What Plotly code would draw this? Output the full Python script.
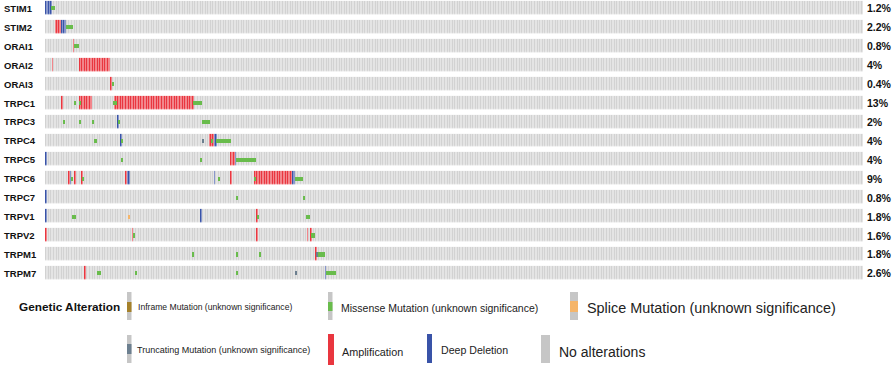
import plotly.graph_objects as go

# ---------------- data ----------------
N_SAMPLES = 500
GENES = ["STIM1", "STIM2", "ORAI1", "ORAI2", "ORAI3", "TRPC1", "TRPC3", "TRPC4",
         "TRPC5", "TRPC6", "TRPC7", "TRPV1", "TRPV2", "TRPM1", "TRPM7"]
PCT_LABELS = ["1.2%", "2.2%", "0.8%", "4%", "0.4%", "13%", "2%", "4%",
              "4%", "9%", "0.8%", "1.8%", "1.6%", "1.8%", "2.6%"]

# runs of sample indices (inclusive start, end)
AMP_RUNS = {
    "STIM2": [(6, 9)],
    "ORAI1": [(17, 17)],
    "ORAI2": [(4, 4), (21, 39)],
    "ORAI3": [(40, 40)],
    "TRPC1": [(10, 10), (21, 28), (42, 90)],
    "TRPC4": [(100, 102)],
    "TRPC5": [(113, 115)],
    "TRPC6": [(14, 14), (18, 18), (22, 22), (49, 49), (113, 113), (128, 150)],
    "TRPV1": [(129, 129)],
    "TRPV2": [(0, 0), (53, 53), (129, 129), (160, 160), (162, 162)],
    "TRPM1": [(165, 165)],
    "TRPM7": [(24, 24)],
}
DEL_RUNS = {
    "STIM1": [(0, 3)],
    "STIM2": [(10, 12)],
    "TRPC3": [(44, 44)],
    "TRPC4": [(46, 46), (103, 104)],
    "TRPC5": [(0, 0), (116, 116)],
    "TRPC6": [(15, 15), (50, 51), (103, 103), (151, 152)],
    "TRPC7": [(0, 0)],
    "TRPV1": [(0, 0), (95, 95)],
    "TRPM7": [(171, 171)],
}
MISSENSE_RUNS = {
    "STIM1": [(4, 5)],
    "STIM2": [(13, 16)],
    "ORAI1": [(18, 20)],
    "ORAI3": [(41, 41)],
    "TRPC1": [(18, 18), (21, 21), (42, 43), (91, 95)],
    "TRPC3": [(11, 11), (21, 21), (29, 29), (45, 45), (96, 100)],
    "TRPC4": [(30, 31), (47, 47), (102, 102), (105, 113)],
    "TRPC5": [(47, 47), (95, 95), (117, 128)],
    "TRPC6": [(16, 16), (23, 23), (106, 106), (128, 128), (153, 157)],
    "TRPC7": [(117, 117), (158, 158)],
    "TRPV1": [(17, 18), (130, 130), (160, 161)],
    "TRPV2": [(54, 54), (163, 164)],
    "TRPM1": [(90, 90), (117, 117), (131, 131), (167, 170)],
    "TRPM7": [(32, 33), (55, 55), (117, 117), (172, 177)],
}
TRUNC_RUNS = {
    "TRPC4": [(96, 96)],
    "TRPM1": [(166, 166)],
    "TRPM7": [(153, 153)],
}
SPLICE_RUNS = {
    "TRPV1": [(51, 51)],
}

# ---------------- style ----------------
GREY = "#d2d2d2"
RED = "#e9363f"
BLUE = "#3953a8"
GREEN = "#69bc4c"
SLATE = "#6c7f8f"
ORANGE = "#f5b56a"
BROWN = "#a5812a"

SANS = "Liberation Sans, Arial, sans-serif"

W, H = 892, 368
ML, MR, MT, MB = 45, 29, 0, 84
PW, PH = W - ML - MR, H - MT - MB


def expand(runs):
    out = []
    for a, b in runs:
        out.extend(range(a, b + 1))
    return out


# CNA matrix: 0 none, 1 amp, 2 deep deletion
z = [[0] * N_SAMPLES for _ in GENES]
for gi, g in enumerate(GENES):
    for s in expand(AMP_RUNS.get(g, [])):
        z[gi][s] = 1
    for s in expand(DEL_RUNS.get(g, [])):
        z[gi][s] = 2

fig = go.Figure()
fig.add_trace(go.Heatmap(
    z=z, x=list(range(N_SAMPLES)), y=list(range(len(GENES))),
    zmin=0, zmax=2,
    colorscale=[[0, GREY], [0.25, GREY], [0.25, RED], [0.75, RED],
                [0.75, BLUE], [1, BLUE]],
    showscale=False, xgap=0.4, ygap=5.6, hoverinfo="skip",
))

MUT_H = 0.22


def add_mut(runs_dict, color):
    xs, ys, bases = [], [], []
    for gi, g in enumerate(GENES):
        for s in expand(runs_dict.get(g, [])):
            xs.append(s)
            ys.append(MUT_H)
            bases.append(gi - MUT_H / 2)
    fig.add_trace(go.Bar(x=xs, y=ys, base=bases, width=0.9,
                         marker=dict(color=color, line=dict(width=0)),
                         hoverinfo="skip", showlegend=False))


add_mut(MISSENSE_RUNS, GREEN)
add_mut(TRUNC_RUNS, SLATE)
add_mut(SPLICE_RUNS, ORANGE)


def xp(px):
    return (px - ML) / PW


def yp(py):
    return (H - MB - py) / PH


ann = []
for gi, g in enumerate(GENES):
    ann.append(dict(text=f"<b>{g}</b>", x=xp(2), xref="paper", y=gi, yref="y",
                    xanchor="left", yanchor="middle", showarrow=False,
                    font=dict(family=SANS, size=9.5, color="#111")))
    ann.append(dict(text=f"<b>{PCT_LABELS[gi]}</b>", x=xp(865), xref="paper", y=gi,
                    yref="y", xanchor="left", yanchor="middle", showarrow=False,
                    font=dict(family=SANS, size=10.5, color="#111")))

# legend
ann.append(dict(text="<b>Genetic Alteration</b>", x=xp(17), y=yp(307), xref="paper",
                yref="paper", xanchor="left", yanchor="middle", showarrow=False,
                font=dict(family=SANS, size=11.8, color="#111")))

shapes = []


def icon(x0, x1, y0, y1, base, seg=None, seg_y=None):
    shapes.append(dict(type="rect", xref="paper", yref="paper", x0=xp(x0), x1=xp(x1),
                       y0=yp(y1), y1=yp(y0), fillcolor=base, line=dict(width=0)))
    if seg:
        shapes.append(dict(type="rect", xref="paper", yref="paper", x0=xp(x0), x1=xp(x1),
                           y0=yp(seg_y[1]), y1=yp(seg_y[0]), fillcolor=seg,
                           line=dict(width=0)))


def label(text, x, y, size):
    ann.append(dict(text=text, x=xp(x), y=yp(y), xref="paper", yref="paper",
                    xanchor="left", yanchor="middle", showarrow=False,
                    font=dict(family=SANS, size=size, color="#222")))


LG = "#c6c6c6"
icon(127, 131.5, 292, 320, LG, BROWN, (302, 312))
label("Inframe Mutation (unknown significance)", 136, 307, 8.6)
icon(328, 332.5, 292, 320, LG, GREEN, (302, 311))
label("Missense Mutation (unknown significance)", 339, 308, 10.5)
icon(570, 578, 292, 320, LG, ORANGE, (301, 312))
label("Splice Mutation (unknown significance)", 585, 308, 14.4)

icon(127, 131.5, 335, 363, LG, SLATE, (344, 354))
label("Truncating Mutation (unknown significance)", 135, 350, 9)
icon(328, 334, 334, 365, RED)
label("Amplification", 340, 352, 10.8)
icon(427, 432, 334, 363, BLUE)
label("Deep Deletion", 439, 350, 10.6)
icon(541, 550, 335, 363, LG)
label("No alterations", 557, 352, 14)

fig.update_layout(
    width=W, height=H,
    margin=dict(l=ML, r=MR, t=MT, b=MB, pad=0),
    paper_bgcolor="white", plot_bgcolor="white",
    barmode="overlay", bargap=0,
    showlegend=False,
    xaxis=dict(range=[-0.5, N_SAMPLES - 0.5], visible=False, fixedrange=True),
    yaxis=dict(range=[14.56, -0.44], visible=False, fixedrange=True),
    annotations=ann, shapes=shapes,
)

fig.write_html("out.html", config={"displayModeBar": False},
               post_script="document.body.style.margin='0';")
